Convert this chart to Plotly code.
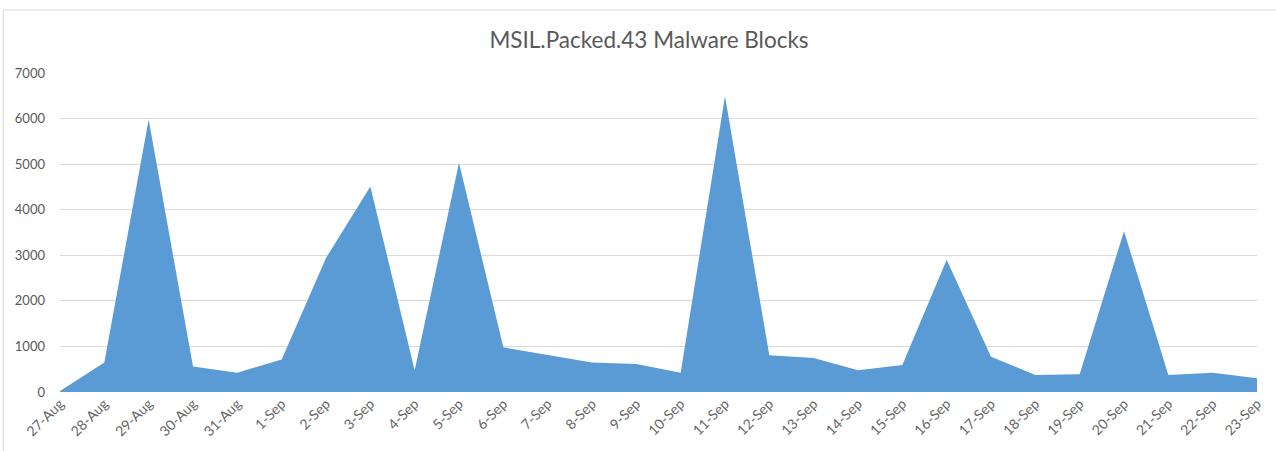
import plotly.graph_objects as go

dates = ["27-Aug", "28-Aug", "29-Aug", "30-Aug", "31-Aug", "1-Sep", "2-Sep", "3-Sep",
         "4-Sep", "5-Sep", "6-Sep", "7-Sep", "8-Sep", "9-Sep", "10-Sep", "11-Sep",
         "12-Sep", "13-Sep", "14-Sep", "15-Sep", "16-Sep", "17-Sep", "18-Sep",
         "19-Sep", "20-Sep", "21-Sep", "22-Sep", "23-Sep"]
blocks = [20, 650, 5980, 560, 425, 715, 2940, 4510,
          480, 5030, 980, 810, 650, 615, 425, 6490,
          805, 745, 480, 590, 2900, 775, 375,
          390, 3530, 375, 425, 300]
y_ticks = [0, 1000, 2000, 3000, 4000, 5000, 6000, 7000]

W, H = 1276, 451
L, R, T, B = 60, 13, 73, 59
PW, PH = W - L - R, H - T - B

fig = go.Figure()
fig.add_trace(go.Scatter(
    x=dates, y=blocks, mode="lines", fill="tozeroy",
    line=dict(width=0, color="#5b9bd5"), fillcolor="#5b9bd5",
    showlegend=False, hoverinfo="x+y",
))

fig.update_layout(
    width=W, height=H,
    margin=dict(l=L, r=R, t=T, b=B),
    paper_bgcolor="white", plot_bgcolor="white",
    font=dict(family="Lato, 'Open Sans', sans-serif", color="#595959", size=12),
    title=dict(text="MSIL.Packed.43 Malware Blocks", x=649 / W, xanchor="center",
               y=1 - 40 / H, yanchor="middle",
               font=dict(size=22.5, color="#595959", family="Lato, 'Open Sans', sans-serif")),
    xaxis=dict(type="category", range=[0, len(dates) - 1], tickangle=-45,
               showgrid=False, zeroline=False, showline=False, ticks="",
               tickfont=dict(size=14, color="#666666")),
    yaxis=dict(range=[0, 7000], tickvals=y_ticks, ticktext=[str(v) for v in y_ticks],
               showgrid=True, gridcolor="#d9d9d9", gridwidth=1, zeroline=False,
               showline=False, ticks="", ticklabelstandoff=14,
               tickfont=dict(size=13, color="#595959")),
    shapes=[dict(type="rect", xref="paper", yref="paper",
                 x0=(3 - L) / PW, x1=1.05, y0=-0.5, y1=1 + (T - 10) / PH,
                 line=dict(color="#d9d9d9", width=1), layer="below")],
)

fig.write_html("out.html", config={"displayModeBar": False},
               post_script="document.body.style.margin='0';")
